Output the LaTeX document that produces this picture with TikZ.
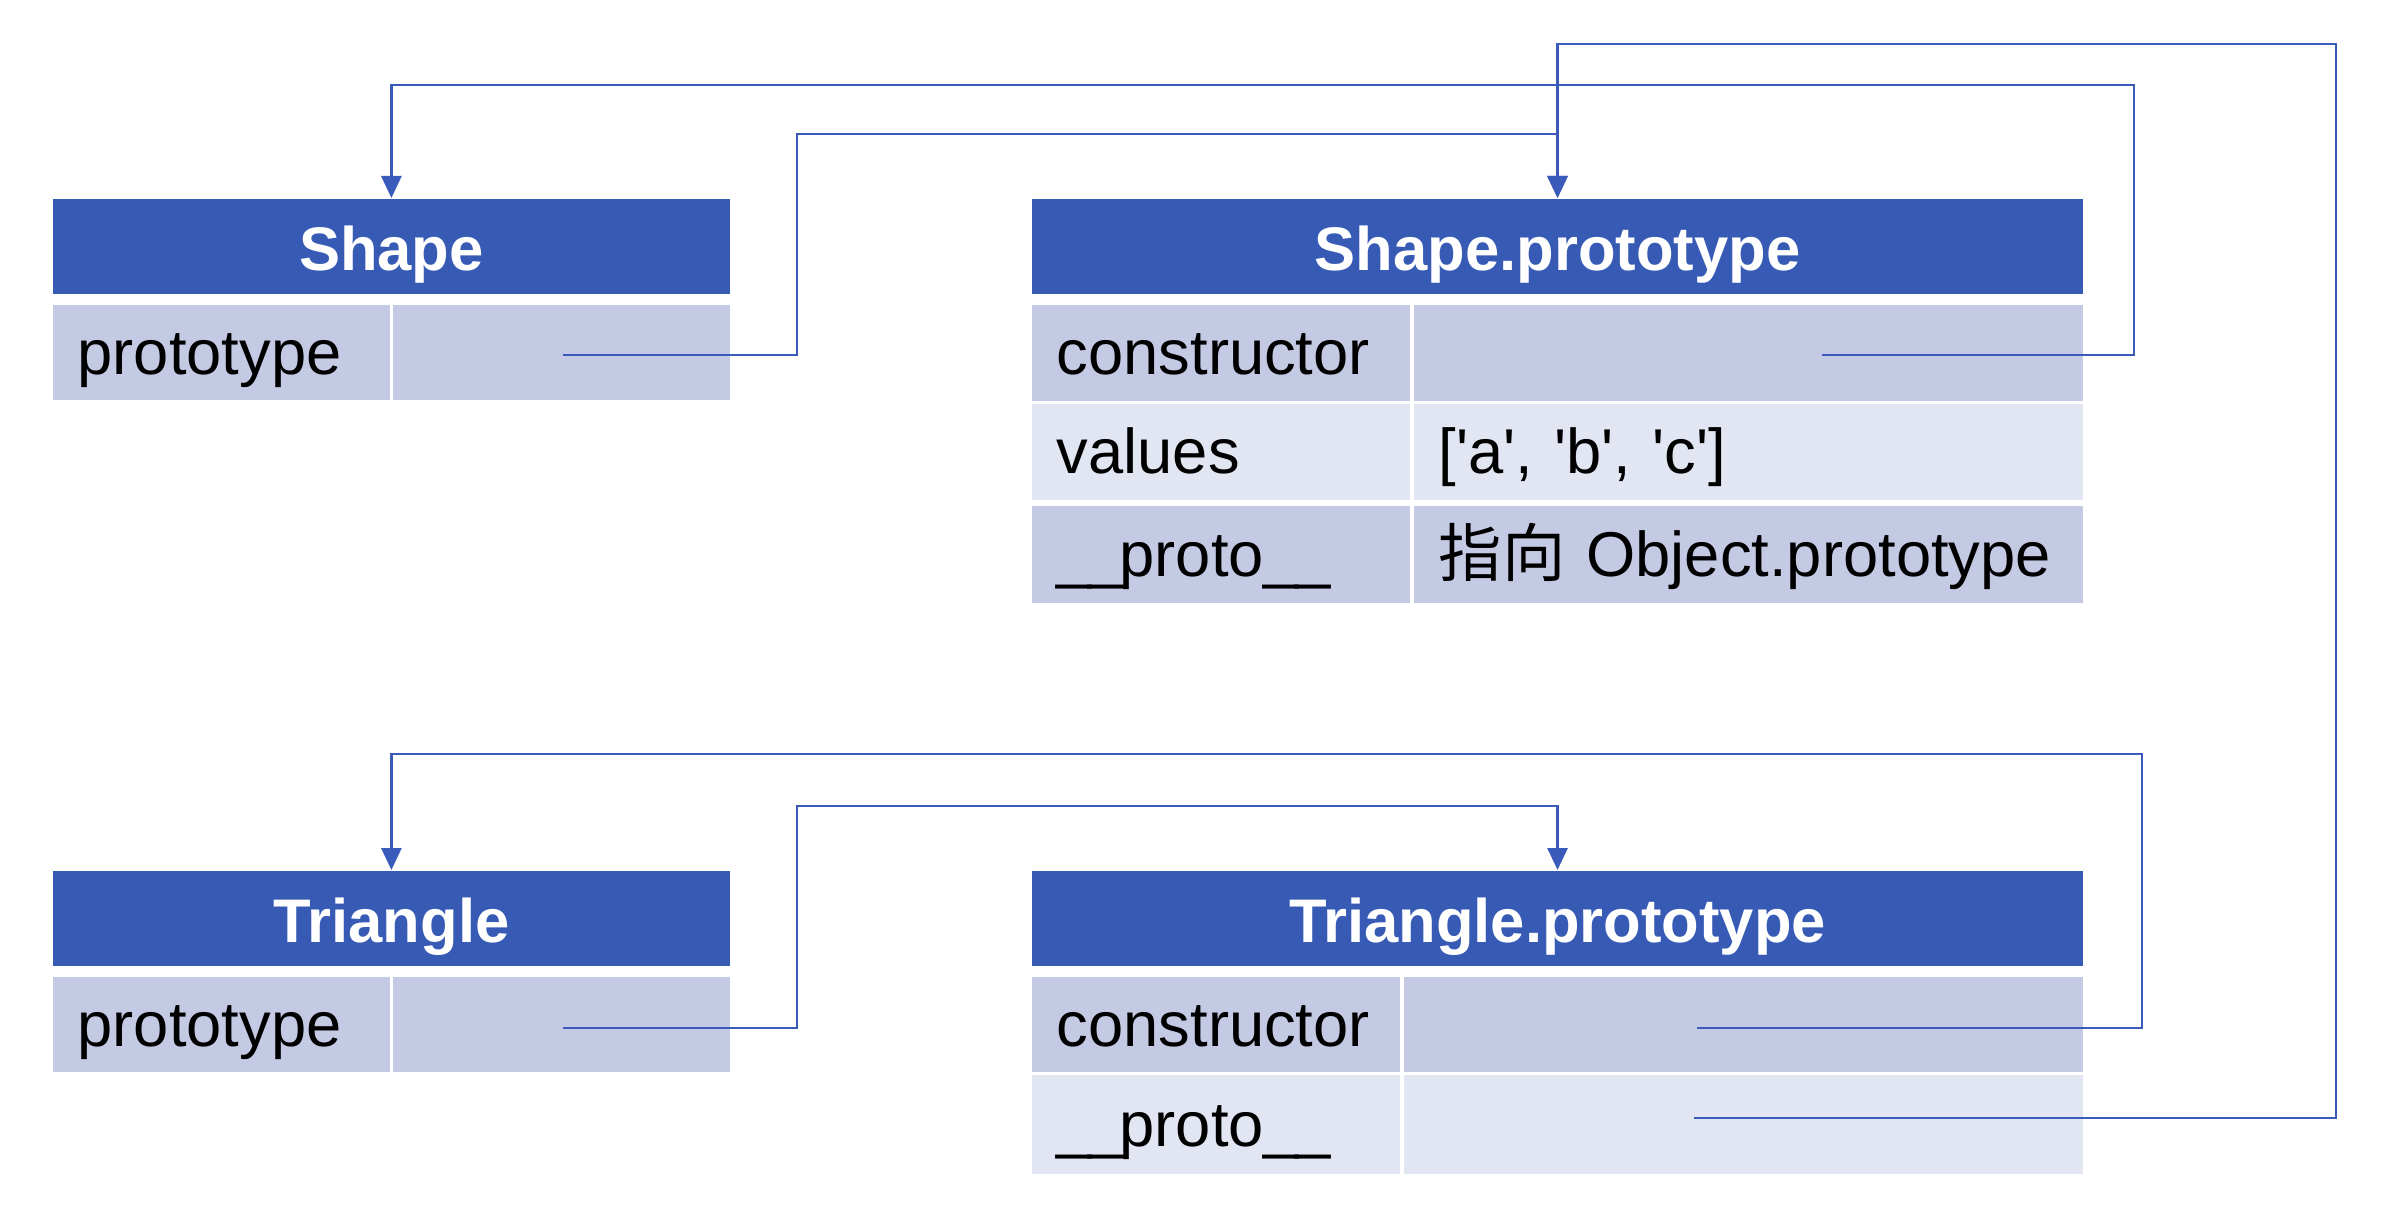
\documentclass[tikz,border=0pt]{standalone}
\usepackage{fontspec}
\setmainfont{Liberation Sans}
\newfontfamily\cjk{Noto Sans CJK SC}
\usepackage{tikz}
\usetikzlibrary{arrows.meta}
\definecolor{headblue}{RGB}{55,91,181}
\definecolor{rowdark}{RGB}{197,202,228}
\definecolor{rowlight}{RGB}{226,229,242}
\definecolor{linkblue}{RGB}{58,91,185}
\newcommand{\sq}{\textquotesingle}
\newcommand{\us}{\_\kern-0.06em}

\begin{document}
\begin{tikzpicture}[x=0.01cm,y=-0.01cm]
\tikzstyle{head}=[fill=headblue,text=white,font=\bfseries\fontsize{17.5}{20}\selectfont,minimum height=0.95cm,inner sep=0pt,text height=0.62cm,text depth=0.13cm,anchor=north west];
\tikzstyle{dark}=[fill=rowdark,font=\fontsize{18}{21}\selectfont,minimum height=0.95cm,inner xsep=0.25cm,inner ysep=0pt,align=left,text height=0.57cm,text depth=0.13cm,anchor=north west];
\tikzstyle{light}=[dark,fill=rowlight];
\tikzstyle{link}=[draw=linkblue,line width=0.8pt,-{Triangle[length=0.22cm,width=0.2cm]}];
\useasboundingbox (0,0) rectangle (2404,1224);

% Shape
\node [head,minimum width=6.77cm] (shape) at (52,198) {Shape};
\node [dark,text width=2.87cm] (shapeKey) at (52,304) {prototype};
\node [dark,text width=2.87cm] (shapeVal) at (392,304) {};

% Shape.prototype
\node [head,minimum width=10.51cm] (sp) at (1031,198) {Shape.prototype};
\node [dark,text width=3.28cm,minimum height=0.96cm] (spCtorKey) at (1031,304) {constructor};
\node [dark,text width=6.19cm,minimum height=0.96cm] (spCtorVal) at (1413,304) {};
\node [light,text width=3.28cm,minimum height=0.96cm] (spValKey) at (1031,403) {values};
\node [light,text width=6.19cm,minimum height=0.96cm] (spValVal) at (1413,403) {[\sq a\sq, \sq b\sq, \sq c\sq]};
\node [dark,text width=3.28cm,minimum height=0.97cm] (spProtoKey) at (1031,505) {\us\us proto\us\_};
\node [dark,text width=6.19cm,minimum height=0.97cm] (spProtoVal) at (1413,505) {{\cjk 指向} Object.prototype};

% Triangle
\node [head,minimum width=6.77cm] (tri) at (52,870) {Triangle};
\node [dark,text width=2.87cm] (triKey) at (52,976) {prototype};
\node [dark,text width=2.87cm] (triVal) at (392,976) {};

% Triangle.prototype
\node [head,minimum width=10.51cm] (tp) at (1031,870) {Triangle.prototype};
\node [dark,text width=3.18cm] (tpCtorKey) at (1031,976) {constructor};
\node [dark,text width=6.29cm] (tpCtorVal) at (1403,976) {};
\node [light,text width=3.18cm,minimum height=0.99cm] (tpProtoKey) at (1031,1074) {\us\us proto\us\_};
\node [light,text width=6.29cm,minimum height=0.99cm] (tpProtoVal) at (1403,1074) {};

% link ends
\coordinate (shapeLink) at (563,355);
\coordinate (spCtorLink) at (1822,355);
\coordinate (triLink) at (563,1028);
\coordinate (tpCtorLink) at (1697,1028);
\coordinate (tpProtoLink) at (1694,1118);

\draw [link] (shapeLink) -| (797,134) -| (sp.north);
\draw [link] (spCtorLink) -| (2134,85) -| (shape.north);
\draw [link] (triLink) -| (797,806) -| (tp.north);
\draw [link] (tpCtorLink) -| (2142,754) -| (tri.north);
\draw [link] (tpProtoLink) -| (2336,44) -| (sp.north);
\end{tikzpicture}
\end{document}
